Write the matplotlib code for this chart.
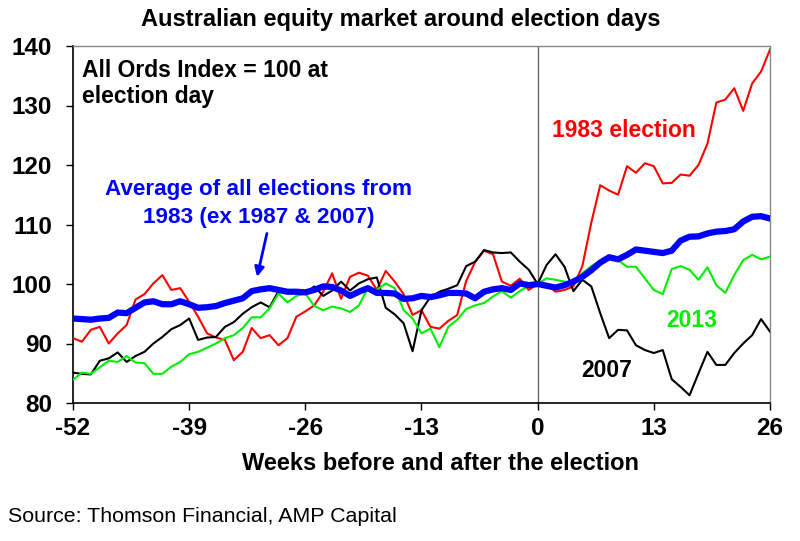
import matplotlib
matplotlib.use("Agg")
import matplotlib.pyplot as plt
import numpy as np

plt.rcParams['font.family'] = ['Liberation Sans', 'DejaVu Sans']

weeks = list(range(-52, 27))

red_1983 = [90.9, 90.3, 92.3, 92.8, 90.0, 91.7, 93.1, 97.4, 98.3, 100.1,
            101.5, 99.0, 99.3, 97.0, 94.5, 91.7, 91.0, 90.6, 87.2, 88.6,
            92.6, 90.9, 91.4, 89.7, 90.9, 94.5, 95.4, 96.4, 98.7, 101.8,
            97.5, 101.2, 101.9, 101.4, 99.0, 102.2, 100.4, 98.3, 94.8, 95.6,
            92.8, 92.5, 93.8, 94.8, 100.5, 103.7, 105.6, 105.0, 100.4, 99.7,
            100.9, 99.0, 100.0, 100.0, 98.7, 99.0, 99.6, 103.0, 110.3, 116.6,
            115.7, 115.0, 119.8, 118.7, 120.3, 119.8, 116.9, 117.0, 118.4, 118.2,
            120.0, 123.6, 130.5, 131.0, 132.9, 129.1, 133.7, 135.7, 139.4]

black_2007 = [85.1, 84.9, 84.8, 87.1, 87.5, 88.5, 86.9, 87.9, 88.6, 90.0,
              91.1, 92.4, 93.1, 94.2, 90.6, 91.0, 91.1, 92.8, 93.6, 95.0,
              96.1, 96.9, 96.1, 98.8, 98.7, 98.9, 98.4, 99.6, 98.0, 98.9,
              100.4, 98.9, 100.1, 100.8, 101.1, 96.0, 94.9, 93.4, 88.7, 95.6,
              97.8, 98.7, 99.2, 99.8, 103.0, 103.75, 105.7, 105.3, 105.2, 105.3,
              103.75, 102.4, 100.0, 103.2, 105.0, 102.9, 98.8, 100.7, 99.6, 95.1,
              90.9, 92.3, 92.2, 89.7, 88.9, 88.4, 88.9, 84.0, 82.7, 81.3,
              85.0, 88.6, 86.4, 86.4, 88.4, 90.0, 91.4, 94.1, 92.0]

green_2013 = [83.9, 85.1, 84.9, 86.0, 87.1, 86.9, 87.9, 86.8, 86.7, 84.9,
              84.9, 86.1, 86.9, 88.2, 88.6, 89.3, 90.0, 90.9, 91.4, 92.6,
              94.4, 94.4, 95.9, 98.4, 96.9, 98.0, 98.4, 96.3, 95.6, 96.2,
              95.9, 95.3, 96.4, 99.3, 99.0, 100.1, 99.3, 95.6, 94.2, 91.7,
              92.5, 89.4, 92.8, 94.0, 95.8, 96.4, 96.8, 97.9, 98.8, 97.7,
              98.8, 99.7, 100.0, 100.95, 100.7, 100.4, 100.2, 101.8, 103.0, 103.9,
              104.5, 104.0, 102.9, 102.9, 100.95, 99.0, 98.3, 102.5, 103.0, 102.4,
              100.7, 102.8, 99.8, 98.5, 101.5, 104.0, 104.9, 104.15, 104.6]

blue_avg = [94.2, 94.1, 94.0, 94.2, 94.3, 95.2, 95.1, 96.0, 96.9, 97.1,
            96.6, 96.6, 97.1, 96.6, 96.0, 96.1, 96.3, 96.8, 97.2, 97.6,
            98.8, 99.1, 99.3, 99.0, 98.7, 98.7, 98.6, 99.0, 99.6, 99.5,
            98.9, 98.0, 98.7, 99.3, 98.5, 98.5, 98.4, 97.5, 97.6, 98.0,
            97.8, 98.1, 98.5, 98.5, 98.4, 97.6, 98.7, 99.1, 99.3, 99.0,
            100.1, 99.8, 100.0, 99.7, 99.4, 99.8, 100.4, 101.2, 102.3, 103.6,
            104.5, 104.15, 104.9, 105.8, 105.6, 105.4, 105.2, 105.6, 107.3, 107.95,
            108.0, 108.5, 108.8, 108.9, 109.2, 110.5, 111.3, 111.4, 111.0]

xticks = [-52, -39, -26, -13, 0, 13, 26]
yticks = [80, 90, 100, 110, 120, 130, 140]

W, H = 800, 541
fig = plt.figure(figsize=(W / 100, H / 100), dpi=100)
ax = fig.add_axes([73 / W, 1 - 403 / H, (770 - 73) / W, (403 - 46) / H])

ax.plot(weeks, red_1983, color='#ff0000', lw=1.5, zorder=3)
ax.plot(weeks, black_2007, color='black', lw=1.5, zorder=3)
ax.plot(weeks, green_2013, color='#00ee00', lw=1.5, zorder=3)
ax.plot(weeks, blue_avg, color='#0000ff', lw=4.5, zorder=4, solid_capstyle='round')

ax.axvline(0, color='#666666', lw=1.0, zorder=2)

ax.set_xlim(-52, 26)
ax.set_ylim(80, 140)
ax.set_xticks(xticks)
ax.set_yticks(yticks)
ax.set_xticklabels([str(t) for t in xticks])
ax.set_yticklabels([str(t) for t in yticks])

for s in ['left', 'bottom']:
    ax.spines[s].set_color('black')
    ax.spines[s].set_linewidth(1.2)
for s in ['top', 'right']:
    ax.spines[s].set_color('#888888')
    ax.spines[s].set_linewidth(1.0)

ax.tick_params(axis='both', direction='out', length=5, width=1.0, labelsize=17.5)
ax.tick_params(axis='y', pad=10)
ax.tick_params(axis='x', pad=5)
for lab in ax.get_xticklabels() + ax.get_yticklabels():
    lab.set_fontweight('bold')

ax.text(-51.0, 134.8, 'All Ords Index = 100 at', fontsize=16.5, fontweight='bold',
        ha='left', va='baseline', color='black')
ax.text(-51.0, 130.4, 'election day', fontsize=16.5, fontweight='bold',
        ha='left', va='baseline', color='black')

ax.text(-31.2, 115.0, 'Average of all elections from', fontsize=16.2, fontweight='bold',
        ha='center', va='baseline', color='#0000ff')
ax.text(-31.2, 110.3, '1983 (ex 1987 & 2007)', fontsize=16.2, fontweight='bold',
        ha='center', va='baseline', color='#0000ff')

ax.annotate('', xy=(-31.4, 101.2), xytext=(-30.3, 108.5),
            arrowprops=dict(arrowstyle='-|>', color='#0000ff', lw=2.0,
                            mutation_scale=14, shrinkA=0, shrinkB=0))

ax.text(9.6, 124.65, '1983 election', fontsize=16.5, fontweight='bold',
        ha='center', va='baseline', color='#ff0000')
ax.text(17.2, 92.7, '2013', fontsize=16.5, fontweight='bold',
        ha='center', va='baseline', color='#00ee00')
ax.text(7.7, 84.4, '2007', fontsize=16.5, fontweight='bold',
        ha='center', va='baseline', color='black')

fig.text(401 / W, 1 - 26 / H, 'Australian equity market around election days',
         fontsize=17, fontweight='bold', ha='center', va='baseline')
fig.text(441 / W, 1 - 470 / H, 'Weeks before and after the election',
         fontsize=17, fontweight='bold', ha='center', va='baseline')
fig.text(8 / W, 1 - 522 / H, 'Source: Thomson Financial, AMP Capital',
         fontsize=15.4, ha='left', va='baseline')

fig.savefig('out.png', dpi=100)
